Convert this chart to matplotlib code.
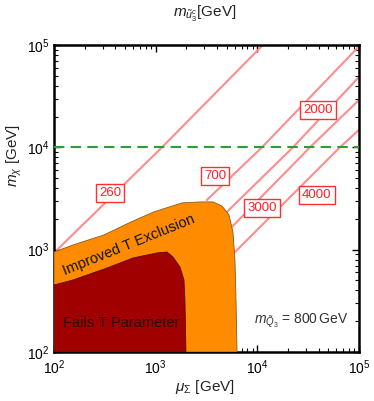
import matplotlib
matplotlib.use("Agg")
import matplotlib.pyplot as plt

plt.rcParams['font.family'] = ['Liberation Sans', 'DejaVu Sans']
plt.rcParams['mathtext.fontset'] = 'custom'
plt.rcParams['mathtext.rm'] = 'Liberation Sans'
plt.rcParams['mathtext.it'] = 'Liberation Sans:italic'
plt.rcParams['mathtext.bf'] = 'Liberation Sans:bold'

# region boundaries (mu_Sigma, m_chi) in GeV
orange_mu = [100, 154, 310, 571, 961, 1815, 2730, 3660, 4486, 5260, 5755, 6026, 6170, 6310]
orange_mchi = [948, 1112, 1393, 1864, 2340, 2864, 2927, 2927, 2673, 2183, 1490, 794, 322, 100]

red_mu = [100, 154, 332, 598, 1031, 1292, 1479, 1734, 1898, 1941, 1986]
red_mchi = [452, 506, 662, 830, 929, 949, 849, 677, 506, 322, 100]

# m_u3c contours: start, crossing of m_chi = 1e4, end
contour_values = ["260", "700", "2000", "3000", "4000"]
contour_mu = [
    [107, 1153, 11350],
    [3190, 11100, 100000],
    [5020, 22400, 100000],
    [5620, 32900, 100000],
    [6030, 64900, 100000],
]
contour_mchi = [
    [993, 10000, 100000],
    [3060, 10000, 97000],
    [2340, 10000, 48700],
    [1667, 10000, 29000],
    [948, 10000, 14800],
]
label_mu = [356, 3830, 39500, 11100, 38500]
label_mchi = [3580, 5250, 23200, 2560, 3430]

bound_mchi = 1e4

fig = plt.figure(figsize=(3.74, 4.01), dpi=100)
ax = fig.add_axes([0.1444, 0.1222, 0.8155, 0.7656])
ax.set_xscale('log')
ax.set_yscale('log')
ax.set_xlim(1e2, 1e5)
ax.set_ylim(1e2, 1e5)

for mu, mc in zip(contour_mu, contour_mchi):
    ax.plot(mu, mc, color='#ff8c8c', lw=1.5, zorder=2)

ax.fill(orange_mu + [100], orange_mchi + [100], facecolor='#ff8c00',
        edgecolor='#8a5a20', lw=0.6, zorder=3)
ax.fill(red_mu + [100], red_mchi + [100], facecolor='#a00000',
        edgecolor='#5a1010', lw=0.6, zorder=4)

ax.axhline(bound_mchi, color='#2ca02c', lw=1.5, ls=(0, (5, 3)), zorder=5)

for txt, x, y in zip(contour_values, label_mu, label_mchi):
    ax.text(x, y, txt, color='#ff2020', fontsize=9.5, ha='center', va='center',
            zorder=6, bbox=dict(boxstyle='square,pad=0.25', fc='white',
                                ec='#ff3030', lw=1.0))

ax.text(546, 1112, "Improved T Exclusion", rotation=22, fontsize=10.5,
        ha='center', va='center', color='#111111', zorder=6,
        rotation_mode='anchor')
ax.text(456, 192, "Fails T Parameter", fontsize=10.5, ha='center', va='center',
        color='#2a0505', zorder=6)
ax.text(0.965, 0.1, r'$m_{\tilde{Q}_3}$ = 800$\,$GeV', transform=ax.transAxes,
        fontsize=10, ha='right', va='center', color='#333333', zorder=6)

ax.tick_params(which='both', direction='in', top=True, right=True,
               labelsize=10, pad=3)
ax.tick_params(axis='x', which='major', pad=4.5)
ax.tick_params(which='major', length=5, width=1)
ax.tick_params(which='minor', length=3, width=0.8)
for sp in ax.spines.values():
    sp.set_linewidth(1.8)

ax.set_xlabel(r'$\mu_\Sigma$ [GeV]', fontsize=11, color='#222222')
ax.xaxis.set_label_coords(0.495, -0.085)
ax.set_ylabel(r'$m_\chi$ [GeV]', fontsize=11, color='#222222')
ax.yaxis.set_label_coords(-0.1, 0.64)
fig.text(0.548, 0.965, r'$m_{\tilde{u}_3^c}$[GeV]', fontsize=11,
         ha='center', va='center', color='#222222')

fig.savefig('out.png', dpi=100)
